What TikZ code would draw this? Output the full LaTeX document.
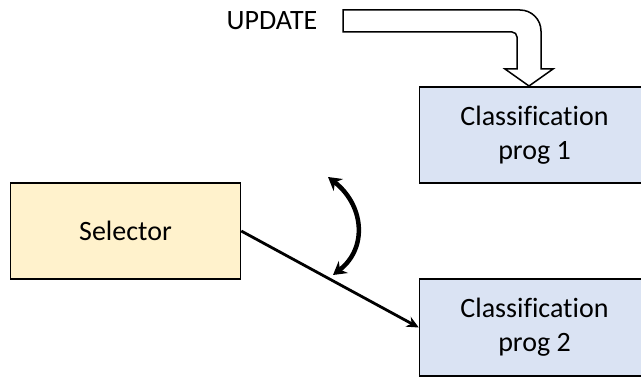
\documentclass[tikz,border=0pt]{standalone}
\usepackage{fontspec}
\setmainfont{Carlito}[Ligatures=NoCommon]
\usetikzlibrary{arrows.meta}
\definecolor{selfill}{HTML}{FFF2CC}
\definecolor{progfill}{HTML}{DAE3F3}
\begin{document}
\begin{tikzpicture}[x=1pt,y=-1pt,
  box/.style={draw=black,line width=1.5pt,minimum width=230pt,inner sep=0pt,align=center,font=\fontsize{28}{34}\selectfont},
  selbox/.style={box,fill=selfill,minimum height=96pt},
  progbox/.style={box,fill=progfill,minimum height=96pt},
  conn/.style={line width=2.8pt,-{Stealth[length=12pt,width=11pt]}},
  swing/.style={line width=4.5pt,{Stealth[length=13pt,width=15pt]}-{Stealth[length=13pt,width=15pt]}},
  blockarrow/.style={draw=black,line width=1.5pt,fill=white,line join=miter}]
\clip (0,0) rectangle (641,377);
\fill[white] (0,0) rectangle (641,377);
\node[selbox] (sel) at (125.5,231) {Selector};
\node[progbox] (p1) at (534.5,135) {Classification\\prog 1};
\node[progbox,minimum height=97pt] (p2) at (534.5,327.5) {Classification\\prog 2};
\node[font=\fontsize{28}{30}\selectfont,inner sep=0pt] (upd) at (272,21) {UPDATE};
\draw[blockarrow] (343,10) -- (520,10) .. controls (531.6,10) and (541,19.4) .. (541,31)
  -- (541,69) -- (553,69) -- (529,86) -- (505,69) -- (517,69) -- (517,37)
  .. controls (517,34.2) and (514.8,32) .. (512,32) -- (343,32) -- cycle;
\draw[conn] (sel.east) -- (p2.west);
\coordinate (sw1) at (328,177);
\coordinate (sw2) at (333,275);
\draw[swing] (sw1) .. controls (364,205) and (368,248) .. (sw2);
\end{tikzpicture}
\end{document}
